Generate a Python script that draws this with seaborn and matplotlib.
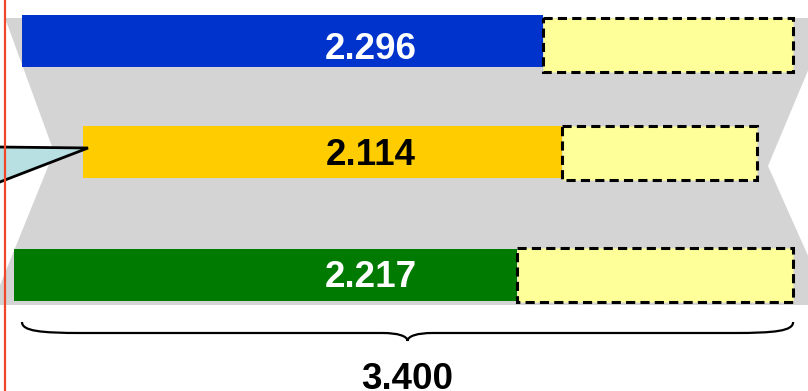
import numpy as np
import pandas as pd
import matplotlib
matplotlib.use("Agg")
import matplotlib.pyplot as plt
from matplotlib.patches import Polygon, PathPatch
from matplotlib.path import Path
import seaborn as sns

# ---- data -------------------------------------------------------------
rows = ["top", "middle", "bottom"]
values = [2.296, 2.114, 2.217]
value_labels = ["2.296", "2.114", "2.217"]
total = 3.400
total_label = "3.400"
row_ends = [3.40, 3.24, 3.40]      # right end of each dashed reserve box

# ---- layout (x in value units, y in pixels from the top) --------------
PX_PER_UNIT = 226.8
ZERO_PX = 22
W, H = 808, 391
row_left = [0.0, 0.269, -0.035]
row_y = [40.5, 151.5, 274.5]
reserve_y = [45, 152.5, 274.5]
label_base = [59, 165, 287]
bar_h = 52
bar_colors = ["#0033cc", "#ffcc00", "#007a00"]
label_colors = ["white", "black", "white"]
reserve_color = "#ffff99"


def ux(px):
    return (px - ZERO_PX) / PX_PER_UNIT


sns.set_theme(style="white")
plt.rcParams["font.family"] = ["Liberation Sans", "DejaVu Sans"]

fig = plt.figure(figsize=(W / 100, H / 100), dpi=100)
ax = fig.add_axes([0, 0, 1, 1])

# grey hourglass backdrop
hourglass = [(5, 18), (830, 18), (768, 166), (830, 305), (-8, 305), (54, 152)]
ax.add_patch(Polygon([(ux(x), y) for x, y in hourglass], closed=True,
                     facecolor="#d4d4d4", edgecolor="none", zorder=0))

# solid value bars
df = pd.DataFrame({"value": values, "row_y": row_y, "row": rows})
sns.barplot(data=df, x="value", y="row_y", orient="h", native_scale=True,
            width=bar_h / (row_y[1] - row_y[0]), color=bar_colors[0],
            saturation=1, errorbar=None, left=row_left, ax=ax, zorder=2)
for patch, c in zip(ax.patches[1:], bar_colors):
    patch.set_facecolor(c)
    patch.set_edgecolor("none")

# dashed reserve boxes from the bar end to the row end
starts = [l + v for l, v in zip(row_left, values)]
ax.barh(reserve_y, [e - s for e, s in zip(row_ends, starts)], left=starts,
        height=bar_h + 2, color=reserve_color, edgecolor="black",
        linewidth=2.2, linestyle=(0, (3.0, 1.7)), zorder=2)

# value labels
for yb, txt, c in zip(label_base, value_labels, label_colors):
    ax.text(ux(371), yb, txt, ha="center", va="baseline", fontsize=26.5,
            fontweight="bold", color=c, zorder=4)

# curly brace spanning the total
x0, x1 = 0.0, total
xm = total / 2
d = ux(22 + 30) - ux(22)
e = ux(22 + 25) - ux(22)
verts = [
    (x0, 322), (x0, 331), (x0 + d * 0.6, 333), (x0 + d * 2, 333),
    (xm - e, 333),
    (xm - e * 0.4, 333), (xm, 336), (xm, 341),
    (xm, 336), (xm + e * 0.4, 333), (xm + e, 333),
    (x1 - d * 2, 333),
    (x1 - d * 0.6, 333), (x1, 331), (x1, 322),
]
codes = [Path.MOVETO, Path.CURVE4, Path.CURVE4, Path.CURVE4,
         Path.LINETO,
         Path.CURVE4, Path.CURVE4, Path.CURVE4,
         Path.CURVE4, Path.CURVE4, Path.CURVE4,
         Path.LINETO,
         Path.CURVE4, Path.CURVE4, Path.CURVE4]
ax.add_patch(PathPatch(Path(verts, codes), facecolor="none",
                       edgecolor="black", linewidth=1.6, zorder=3))
ax.text(xm, 389, total_label, ha="center", va="baseline", fontsize=26.5,
        fontweight="bold", color="black", zorder=4)

# callout pointer reaching into the middle row
callout = [(-30, 146.7), (88, 148), (-30, 193.5)]
ax.add_patch(Polygon([(ux(x), y) for x, y in callout], closed=True,
                     facecolor="#b8dfe2", edgecolor="black", linewidth=2.0,
                     joinstyle="miter", zorder=3))

# red marker line at the left
ax.axvline(ux(4.5), color="#f0472a", linewidth=1.6, zorder=5)

ax.set_xlim(ux(0), ux(W))
ax.set_ylim(H, 0)
ax.axis("off")

fig.savefig("out.png", dpi=100)
